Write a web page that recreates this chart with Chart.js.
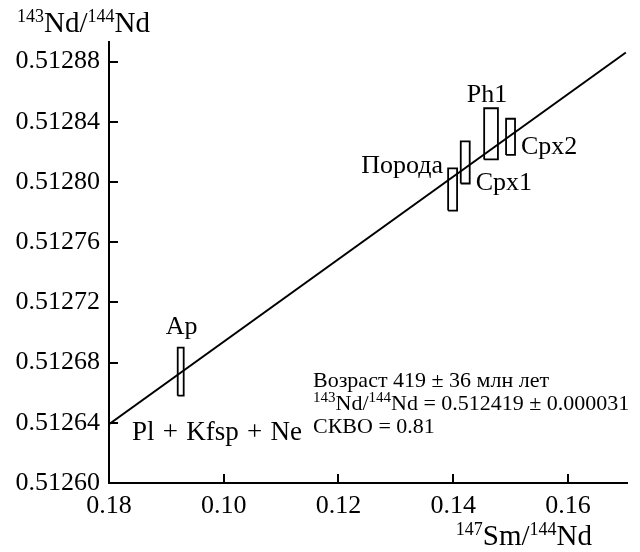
<!DOCTYPE html>
<html>
<head>
<meta charset="utf-8">
<script src="https://cdn.jsdelivr.net/npm/chart.js@4.4.1/dist/chart.umd.min.js"></script>
<style>
  html, body { margin: 0; padding: 0; background: #fff; }
  #wrap { width: 640px; height: 552px; }
</style>
</head>
<body>
<div id="wrap"><canvas id="chart" width="640" height="552"></canvas></div>
<script>
// samples (error boxes)
const samples = ['Ap', 'Порода', 'Cpx1', 'Ph1', 'Cpx2'];
const smNd = [0.0925, 0.1399, 0.1421, 0.1466, 0.1500];
const smNdErr = [0.00052, 0.00078, 0.00078, 0.00120, 0.00078];
const ndLow = [0.512658, 0.512781, 0.512799, 0.512815, 0.512818];
const ndHigh = [0.512690, 0.512809, 0.512827, 0.512849, 0.512842];

// isochron end points
const isoX = [0.080, 0.1701];
const isoY = [0.512639, 0.512886];

// ticks
const xTicks = [0.08, 0.10, 0.12, 0.14, 0.16];
const xTickLabels = ['0.18', '0.10', '0.12', '0.14', '0.16'];
const yTicks = [0.51260, 0.51264, 0.51268, 0.51272, 0.51276, 0.51280, 0.51284, 0.51288];
const yTickLabels = ['0.51260', '0.51264', '0.51268', '0.51272', '0.51276', '0.51280', '0.51284', '0.51288'];

const notes = ['Возраст 419 ± 36 млн лет', 'Nd = 0.512419 ± 0.000031', 'СКВО = 0.81'];

const SERIF = '"Liberation Serif", "DejaVu Serif", serif';

// text with superscripts: parts = [[text, isSup], ...]
function drawRich(ctx, parts, x, y, size, supSize, align) {
    let w = 0;
    parts.forEach(([t, s]) => {
        ctx.font = (s ? supSize : size) + 'px ' + SERIF;
        w += ctx.measureText(t).width;
    });
    let cx = align === 'right' ? x - w : x;
    ctx.textAlign = 'left';
    ctx.textBaseline = 'alphabetic';
    parts.forEach(([t, s]) => {
        ctx.font = (s ? supSize : size) + 'px ' + SERIF;
        ctx.fillText(t, cx, s ? y - size * 0.36 : y);
        cx += ctx.measureText(t).width;
    });
}

const decor = {
    id: 'decor',
    afterDraw(chart) {
        const ctx = chart.ctx;
        const xs = chart.scales.x, ys = chart.scales.y;
        const area = chart.chartArea;
        ctx.save();
        ctx.strokeStyle = '#000';
        ctx.fillStyle = '#000';
        ctx.lineWidth = 2;

        // inward ticks
        ctx.beginPath();
        xTicks.slice(1).forEach(v => {
            const px = Math.round(xs.getPixelForValue(v));
            ctx.moveTo(px, area.bottom);
            ctx.lineTo(px, area.bottom - 9);
        });
        yTicks.slice(1).forEach(v => {
            const py = Math.round(ys.getPixelForValue(v));
            ctx.moveTo(area.left, py);
            ctx.lineTo(area.left + 9, py);
        });
        ctx.stroke();

        // axis titles
        drawRich(ctx, [['143', 1], ['Nd/', 0], ['144', 1], ['Nd', 0]], 17, 32, 29, 18, 'left');
        drawRich(ctx, [['147', 1], ['Sm/', 0], ['144', 1], ['Nd', 0]], 592, 545, 29, 18, 'right');

        // sample labels
        ctx.font = '26px ' + SERIF;
        ctx.textBaseline = 'alphabetic';
        samples.forEach((name, i) => {
            const cx = xs.getPixelForValue(smNd[i]);
            const l = xs.getPixelForValue(smNd[i] - smNdErr[i]);
            const r = xs.getPixelForValue(smNd[i] + smNdErr[i]);
            const top = ys.getPixelForValue(ndHigh[i]);
            const bot = ys.getPixelForValue(ndLow[i]);
            if (name === 'Ap') { ctx.textAlign = 'center'; ctx.fillText(name, cx + 1, top - 14); }
            if (name === 'Порода') { ctx.textAlign = 'right'; ctx.fillText(name, l - 5, top + 5); }
            if (name === 'Cpx1') { ctx.textAlign = 'left'; ctx.fillText(name, r + 6, bot + 7); }
            if (name === 'Ph1') { ctx.textAlign = 'center'; ctx.fillText(name, cx - 4, top - 6); }
            if (name === 'Cpx2') { ctx.textAlign = 'left'; ctx.fillText(name, r + 6, bot - 1); }
        });
        ctx.textAlign = 'left';
        ctx.font = '27px ' + SERIF;
        ctx.wordSpacing = '1.5px';
        ctx.fillText('Pl + Kfsp + Ne', area.left + 23, 440);
        ctx.wordSpacing = '0px';

        // age annotation
        ctx.font = '22px ' + SERIF;
        ctx.fillText(notes[0], 313, 387);
        drawRich(ctx, [['143', 1], ['Nd/', 0], ['144', 1], [notes[1], 0]], 313, 410, 22, 15, 'left');
        ctx.font = '22px ' + SERIF;
        ctx.textAlign = 'left';
        ctx.fillText(notes[2], 313, 433);
        ctx.restore();
    }
};

const boxSets = samples.map((name, i) => ({
    label: name,
    data: [
        { x: smNd[i] - smNdErr[i], y: ndLow[i] },
        { x: smNd[i] + smNdErr[i], y: ndLow[i] },
        { x: smNd[i] + smNdErr[i], y: ndHigh[i] },
        { x: smNd[i] - smNdErr[i], y: ndHigh[i] },
        { x: smNd[i] - smNdErr[i], y: ndLow[i] }
    ],
    showLine: true,
    borderColor: '#000',
    borderWidth: 1.8,
    pointRadius: 0,
    fill: false,
    tension: 0
}));

const tickFont = { family: SERIF, size: 26 };

new Chart(document.getElementById('chart'), {
    type: 'scatter',
    data: {
        datasets: [{
            label: 'isochron',
            data: isoX.map((x, i) => ({ x, y: isoY[i] })),
            showLine: true,
            borderColor: '#000',
            borderWidth: 2,
            pointRadius: 0,
            tension: 0
        }, ...boxSets]
    },
    options: {
        responsive: false,
        animation: false,
        layout: { padding: { top: 42, right: 13, left: 0, bottom: 0 } },
        plugins: {
            legend: { display: false },
            tooltip: { enabled: false }
        },
        scales: {
            x: {
                type: 'linear',
                min: 0.08,
                max: 0.1703,
                afterBuildTicks: s => { s.ticks = xTicks.map(v => ({ value: v })); },
                afterFit: s => { s.height = 69; },
                ticks: {
                    callback: (v, i) => xTickLabels[i],
                    font: tickFont,
                    color: '#000',
                    padding: 0,
                    maxRotation: 0,
                    autoSkip: false
                },
                grid: { display: false },
                border: { display: true, color: '#000', width: 2 }
            },
            y: {
                type: 'linear',
                min: 0.5126,
                max: 0.512893,
                afterBuildTicks: s => { s.ticks = yTicks.map(v => ({ value: v })); },
                afterFit: s => { s.width = 109; },
                ticks: {
                    callback: (v, i) => yTickLabels[i],
                    font: tickFont,
                    color: '#000',
                    padding: 1,
                    autoSkip: false
                },
                grid: { display: false },
                border: { display: true, color: '#000', width: 2 }
            }
        }
    },
    plugins: [decor]
});
</script>
</body>
</html>
